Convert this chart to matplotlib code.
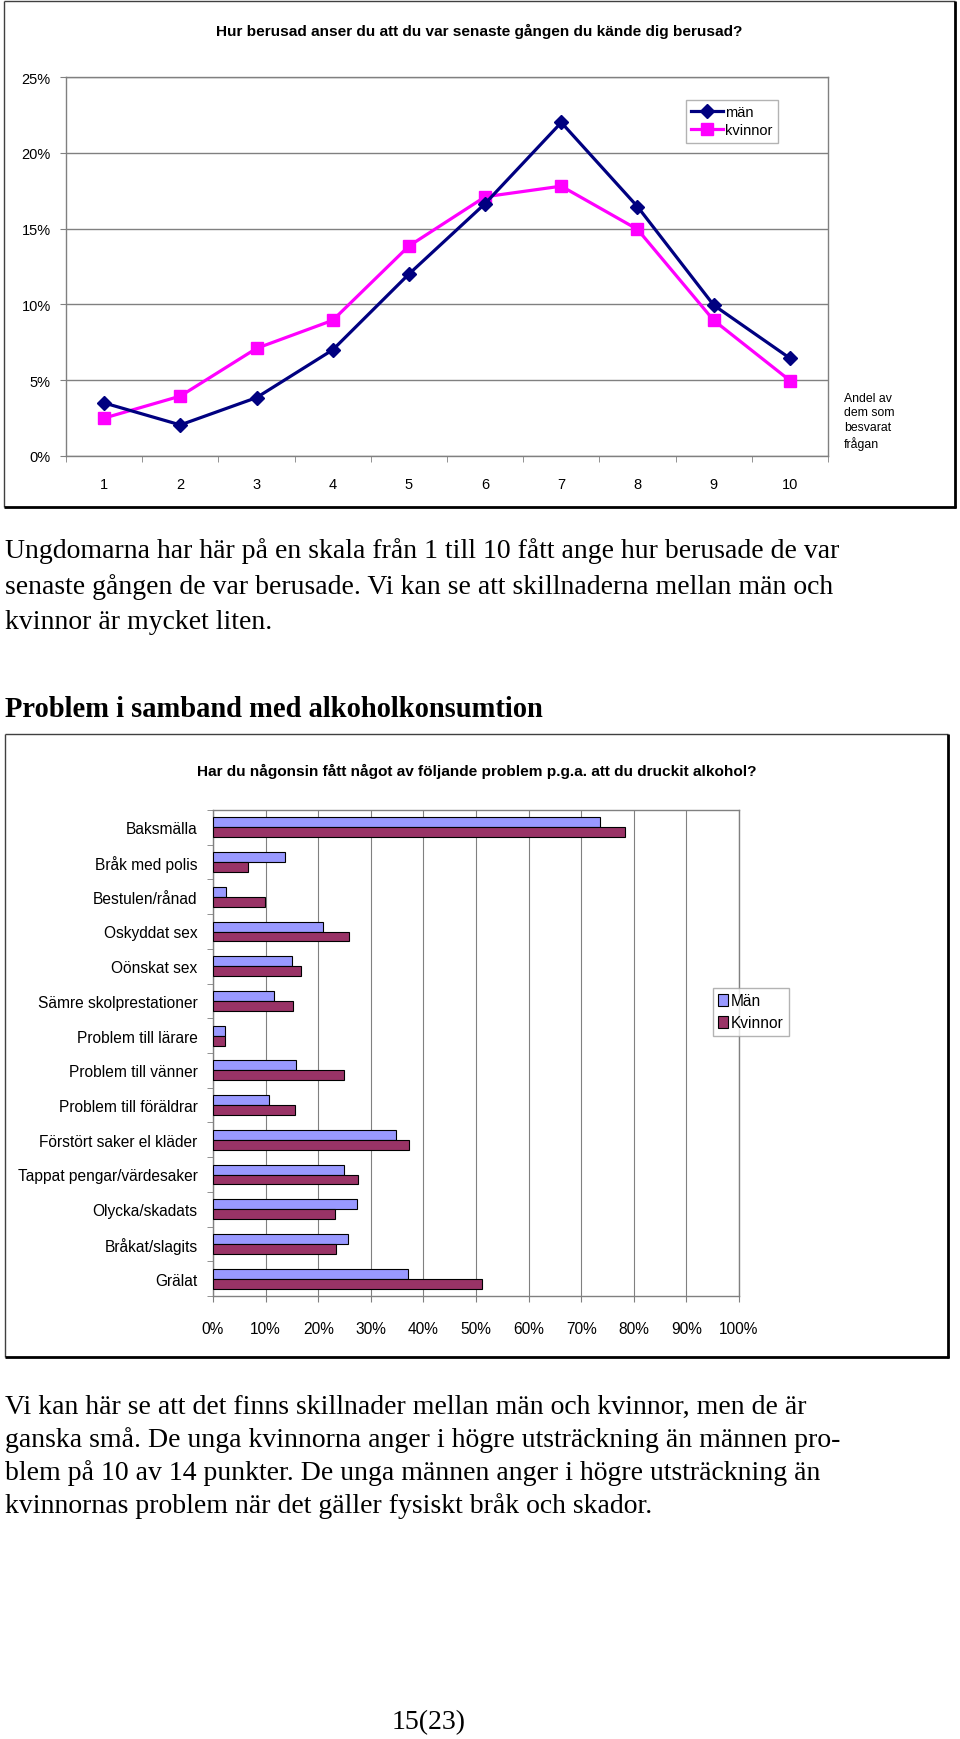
import matplotlib
matplotlib.use("Agg")
import matplotlib.pyplot as plt
from matplotlib import font_manager
import numpy as np

# ---------------- data ----------------
scale_x = [1, 2, 3, 4, 5, 6, 7, 8, 9, 10]
man_line = [3.5, 2.05, 3.85, 7.0, 12.0, 16.65, 22.0, 16.45, 9.95, 6.45]
kvinnor_line = [2.5, 3.95, 7.1, 8.95, 13.85, 17.1, 17.8, 14.95, 8.95, 4.98]
line_yticks = [0, 5, 10, 15, 20, 25]

problems = ["Baksmälla", "Bråk med polis", "Bestulen/rånad", "Oskyddat sex",
            "Oönskat sex", "Sämre skolprestationer", "Problem till lärare",
            "Problem till vänner", "Problem till föräldrar",
            "Förstört saker el kläder", "Tappat pengar/värdesaker",
            "Olycka/skadats", "Bråkat/slagits", "Grälat"]
man_bar = [73.5, 13.6, 2.5, 20.9, 15.1, 11.6, 2.2, 15.8, 10.6, 34.7, 24.9, 27.3, 25.6, 37.0]
kvinnor_bar = [78.4, 6.7, 9.8, 25.9, 16.7, 15.2, 2.2, 24.9, 15.5, 37.3, 27.5, 23.1, 23.4, 51.1]
bar_xticks = [0, 10, 20, 30, 40, 50, 60, 70, 80, 90, 100]

# ---------------- fonts ----------------
avail = {f.name for f in font_manager.fontManager.ttflist}
SANS = "Liberation Sans" if "Liberation Sans" in avail else "DejaVu Sans"
NARROW = "Liberation Sans Narrow" if "Liberation Sans Narrow" in avail else SANS
SERIF = "Liberation Serif" if "Liberation Serif" in avail else "DejaVu Serif"
narrow_scale = 1.0 if NARROW != SANS else 0.93

W, H = 960, 1740
fig = plt.figure(figsize=(W / 100, H / 100), dpi=100)
renderer = fig.canvas.get_renderer()


def rect(l, t, r, b):
    return [l / W, 1 - b / H, (r - l) / W, (b - t) / H]


# background overlay in pixel coordinates
bg = fig.add_axes([0, 0, 1, 1])
bg.set_xlim(0, W)
bg.set_ylim(H, 0)
bg.axis("off")


def fit_width(txt, target_px):
    """scale the font size of a text so its rendered width equals target_px"""
    w = txt.get_window_extent(renderer=renderer).width
    txt.set_fontsize(txt.get_fontsize() * target_px / w)
    return txt.get_fontsize()


def frame(l, t, r, b):
    bg.plot([l, r], [t, t], color="#404040", lw=1.0, solid_capstyle="butt")
    bg.plot([l, l], [t, b], color="#404040", lw=1.0, solid_capstyle="butt")
    bg.plot([r, r], [t, b + 1], color="black", lw=2.0, solid_capstyle="butt")
    bg.plot([l, r + 1], [b, b], color="black", lw=2.0, solid_capstyle="butt")


frame(4, 1.5, 955, 508)
frame(5, 735, 948, 1358)

GRID = "#808080"

# ---------------- line chart ----------------
ax1 = fig.add_axes(rect(66, 78, 828, 457))
ax1.plot(scale_x, [v / 100 for v in man_line], color="#000080", lw=2.3,
         marker="D", ms=7, mfc="#000080", mec="#000080", label="män", zorder=4)
ax1.plot(scale_x, [v / 100 for v in kvinnor_line], color="#FF00FF", lw=2.3,
         marker="s", ms=8, mfc="#FF00FF", mec="#FF00FF", label="kvinnor", zorder=3)
ax1.set_xlim(0.5, 10.5)
ax1.set_ylim(0, 0.25)
ax1.set_yticks([v / 100 for v in line_yticks])
ax1.set_yticklabels([f"{v}%" for v in line_yticks], fontsize=10.5, family=SANS)
ax1.set_xticks(scale_x)
ax1.set_xticklabels([str(v) for v in scale_x], fontsize=10.5, family=SANS)
ax1.set_xticks(np.arange(0.5, 11, 1.0), minor=True)
ax1.tick_params(axis="x", which="major", length=0, pad=15)
ax1.tick_params(axis="x", which="minor", length=4, color=GRID, direction="out")
ax1.tick_params(axis="y", which="major", length=4, color=GRID, direction="out", pad=7)
ax1.yaxis.grid(True, color=GRID, lw=1.0)
ax1.set_axisbelow(True)
for s in ax1.spines.values():
    s.set_color(GRID)
    s.set_linewidth(1.0)
leg1 = ax1.legend(loc="upper left", bbox_to_anchor=(686 / W, 1 - 101 / H),
                  bbox_transform=fig.transFigure, frameon=True, fancybox=False,
                  prop={"family": SANS, "size": 10.5}, handlelength=2.2,
                  handletextpad=0.15, borderpad=0.35, labelspacing=0.3,
                  borderaxespad=0)
leg1.get_frame().set_edgecolor("#A0A0A0")
leg1.get_frame().set_linewidth(1.0)

t1 = bg.text(479, 31, "Hur berusad anser du att du var senaste gången du kände dig berusad?",
             ha="center", va="center", fontsize=10, fontweight="bold", family=SANS)
fit_width(t1, 528)
bg.text(844, 422, "Andel av\ndem som\nbesvarat\nfrågan", ha="left", va="center",
        fontsize=8.8, family=SANS, linespacing=1.3)

# ---------------- page text ----------------
para1 = ["Ungdomarna har här på en skala från 1 till 10 fått ange hur berusade de var",
         "senaste gången de var berusade. Vi kan se att skillnaderna mellan män och",
         "kvinnor är mycket liten."]
p1 = [bg.text(5, 551 + 36 * i, line, ha="left", va="center", fontsize=18, family=SERIF)
      for i, line in enumerate(para1)]
TXT = fit_width(p1[0], 833)
for t in p1:
    t.set_fontsize(TXT)
hd = bg.text(5, 710, "Problem i samband med alkoholkonsumtion", ha="left", va="center",
             fontsize=TXT, family=SERIF, fontweight="bold")
fit_width(hd, 539)
para2 = ["Vi kan här se att det finns skillnader mellan män och kvinnor, men de är",
         "ganska små. De unga kvinnorna anger i högre utsträckning än männen pro-",
         "blem på 10 av 14 punkter. De unga männen anger i högre utsträckning än",
         "kvinnornas problem när det gäller fysiskt bråk och skador."]
for i, line in enumerate(para2):
    bg.text(5, 1407 + 33 * i, line, ha="left", va="center", fontsize=TXT, family=SERIF)
bg.text(429, 1723, "15(23)", ha="center", va="center", fontsize=TXT, family=SERIF)

# ---------------- bar chart ----------------
LBL = 12 * narrow_scale
ax2 = fig.add_axes(rect(213, 811, 739, 1297))
y = np.arange(len(problems))
h = 0.288
ax2.barh(y - h / 2, man_bar, height=h, color="#9999FF", edgecolor="black",
         lw=0.8, label="Män", zorder=3)
ax2.barh(y + h / 2, kvinnor_bar, height=h, color="#993366", edgecolor="black",
         lw=0.8, label="Kvinnor", zorder=3)
ax2.set_xlim(0, 100)
ax2.set_ylim(len(problems) - 0.5, -0.5)
ax2.set_yticks(y)
ax2.set_yticklabels(problems, fontsize=LBL, family=NARROW)
ax2.set_yticks(np.arange(-0.5, len(problems), 1.0), minor=True)
ax2.tick_params(axis="y", which="major", length=0, pad=11)
ax2.tick_params(axis="y", which="minor", length=4, color=GRID, direction="out")
ax2.set_xticks(bar_xticks)
ax2.set_xticklabels([f"{v}%" for v in bar_xticks], fontsize=LBL, family=NARROW)
ax2.tick_params(axis="x", which="major", length=4, color=GRID, direction="out", pad=14)
ax2.xaxis.grid(True, color=GRID, lw=0.8)
ax2.set_axisbelow(True)
for s in ax2.spines.values():
    s.set_color(GRID)
    s.set_linewidth(1.0)
leg2 = ax2.legend(loc="upper left", bbox_to_anchor=(713 / W, 1 - 989 / H),
                  bbox_transform=fig.transFigure, frameon=True, fancybox=False,
                  prop={"family": NARROW, "size": LBL},
                  handlelength=0.6, handleheight=0.8, handletextpad=0.2,
                  borderpad=0.35, labelspacing=0.45, borderaxespad=0)
leg2.get_frame().set_edgecolor("#A0A0A0")
leg2.get_frame().set_linewidth(1.0)

t2 = bg.text(477, 771, "Har du någonsin fått något av följande problem p.g.a. att du druckit alkohol?",
             ha="center", va="center", fontsize=11, fontweight="bold", family=NARROW)
fit_width(t2, 560)

fig.savefig("out.png", dpi=100)
